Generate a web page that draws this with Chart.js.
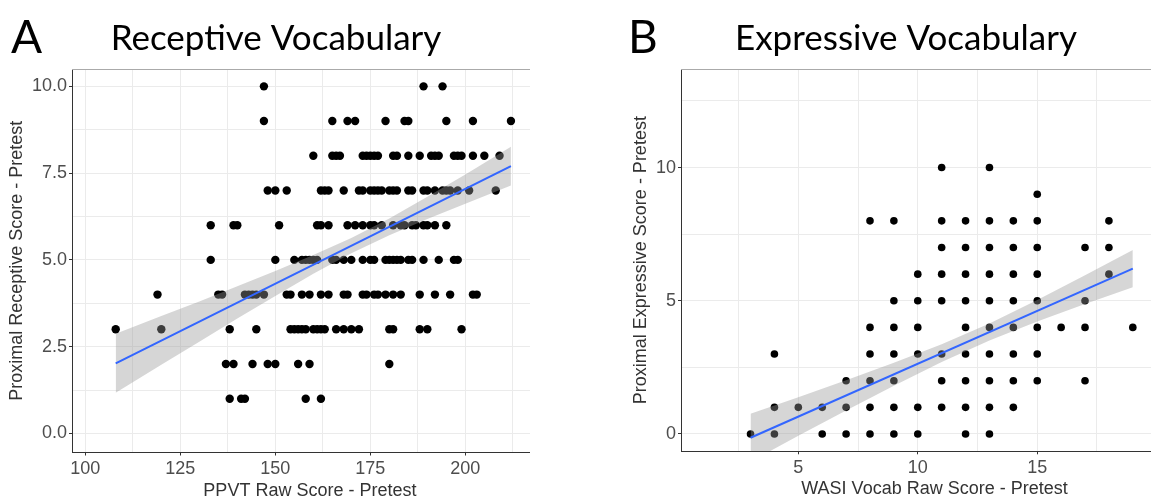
<!DOCTYPE html>
<html lang="en">
<head>
<meta charset="UTF-8">
<title>Receptive and Expressive Vocabulary</title>
<script src="https://cdn.jsdelivr.net/npm/chart.js@4.4.1/dist/chart.umd.min.js"></script>
<style>
  html, body { margin: 0; padding: 0; background: #fff; }
  body { width: 1151px; height: 500px; position: relative; overflow: hidden; font-family: Lato, sans-serif; }
  .panel { position: absolute; top: 0; height: 500px; overflow: hidden; }
  #panelA { left: 0; width: 530px; }
  #panelB { left: 620px; width: 531px; }
  .tag { position: absolute; top: 13px; font-size: 46px; color: #000; line-height: 1; }
</style>
</head>
<body>
<div class="panel" id="panelA"><canvas id="chartA" width="552" height="500"></canvas></div>
<div class="panel" id="panelB"><canvas id="chartB" width="572" height="500"></canvas></div>
<div class="tag" style="left:11px">A</div>
<div class="tag" style="left:628px">B</div>
<script>
// Panel A: proximal receptive score (one entry per score level) and the PPVT raw scores at that level
const receptiveLevels = [10, 9, 8, 7, 6, 5, 4, 3, 2, 1];
const ppvtByLevel = [
  [147, 189, 194],
  [147, 165, 169, 171, 179, 184, 185, 195, 202, 212],
  [160, 165, 166, 167, 173, 174, 175, 176, 177, 181, 182, 185, 188, 191, 192, 193, 197, 198, 199, 202, 205, 209],
  [148, 150, 153, 162, 163, 164, 168, 172, 173, 175, 176, 177, 178, 180, 181, 182, 185, 186, 189, 190, 192, 194, 195, 196, 198, 201, 208],
  [133, 139, 140, 151, 161, 162, 164, 169, 171, 173, 175, 176, 178, 181, 183, 184, 186, 187, 189, 190, 192, 195],
  [133, 150, 155, 157, 158, 159, 160, 161, 165, 166, 168, 170, 173, 175, 176, 179, 180, 181, 182, 183, 185, 186, 189, 193, 197, 198],
  [119, 135, 136, 142, 143, 144, 145, 147, 153, 154, 157, 159, 162, 164, 168, 169, 173, 174, 176, 177, 179, 181, 183, 188, 192, 196, 202, 203],
  [108, 120, 138, 145, 154, 155, 156, 157, 158, 160, 161, 162, 163, 166, 168, 170, 172, 180, 181, 188, 190, 199],
  [137, 139, 144, 148, 150, 156, 159, 180],
  [138, 141, 142, 158, 162]
];
// linear fit and its confidence band
const fitAx = [108, 212];
const fitAy = [2.02, 7.70];
const bandAx = [108, 120, 130, 140, 150, 160, 170, 180, 190, 200, 212];
const bandAlow = [1.17, 1.98, 2.64, 3.31, 3.96, 4.60, 5.19, 5.71, 6.18, 6.62, 7.14];
const bandAhigh = [2.87, 3.38, 3.80, 4.24, 4.68, 5.14, 5.63, 6.19, 6.82, 7.46, 8.26];

// Panel B: proximal expressive score levels and the WASI vocab raw scores at that level
const expressiveLevels = [10, 9, 8, 7, 6, 5, 4, 3, 2, 1, 0];
const wasiByLevel = [
  [11, 13],
  [15],
  [8, 9, 11, 12, 13, 14, 15, 18],
  [11, 12, 13, 14, 15, 17, 18],
  [10, 11, 12, 13, 14, 15, 18],
  [9, 10, 11, 12, 13, 14, 15, 17],
  [8, 9, 10, 12, 13, 14, 15, 16, 17, 19],
  [4, 8, 9, 10, 11, 12, 13, 14, 15],
  [7, 8, 9, 11, 12, 13, 14, 15, 17],
  [4, 5, 6, 7, 8, 9, 10, 11, 12, 13, 14],
  [3, 4, 6, 7, 8, 9, 10, 12, 13]
];
const fitBx = [3, 19];
const fitBy = [-0.14, 6.21];
const bandBx = [3, 5, 7, 9, 11, 13, 15, 17, 19];
const bandBlow = [-1.04, -0.07, 0.88, 1.81, 2.70, 3.51, 4.22, 4.88, 5.51];
const bandBhigh = [0.76, 1.38, 2.02, 2.67, 3.37, 4.15, 5.03, 5.96, 6.91];

function pointsFrom(levels, byLevel) {
  const pts = [];
  levels.forEach((lv, i) => byLevel[i].forEach(x => pts.push({ x: x, y: lv })));
  return pts;
}
function zip(xs, ys) {
  return xs.map((x, i) => ({ x: x, y: ys[i] }));
}

const tickFont = { family: 'Liberation Sans', size: 18 };

// every minor step gets a grid line, only major steps get a label and a tick mark;
// tickMax is where the original panel ended (the figure is cropped on the right)
function axis(min, max, tickMax, step, major, fmt, fitSize, title, titlePad, horizontal) {
  return {
    type: 'linear', min: min, max: max,
    position: horizontal ? 'bottom' : 'left',
    afterFit: s => { if (horizontal) s.height = fitSize; else s.width = fitSize; },
    afterBuildTicks: s => {
      const t = [];
      const end = Math.min(max, tickMax);
      for (let v = Math.ceil(min / step) * step; v <= end + 1e-9; v += step) t.push({ value: +v.toFixed(4) });
      s.ticks = t;
    },
    border: { color: '#333', width: 1 },
    grid: {
      color: '#ebebeb', lineWidth: 1, tickLength: 3,
      tickColor: c => (c.tick && c.tick.label !== '' ? '#333' : 'rgba(0,0,0,0)')
    },
    ticks: {
      autoSkip: false, maxRotation: 0,
      padding: horizontal ? 3 : 2, color: '#4d4d4d', font: tickFont,
      callback: v => (Math.abs(v / major - Math.round(v / major)) < 1e-6 ? fmt(v) : '')
    },
    title: {
      display: true, text: title, color: '#333',
      font: { family: 'Liberation Sans', size: 18, lineHeight: 1 },
      padding: titlePad
    }
  };
}

function frameTop(min, max) {
  return {
    type: 'linear', position: 'top', min: min, max: max,
    afterFit: s => { s.height = 0; },
    ticks: { display: false },
    grid: { drawOnChartArea: false, drawTicks: false },
    border: { color: '#aaa', width: 1 }
  };
}

function makeChart(id, cfg) {
  new Chart(document.getElementById(id), {
    type: 'scatter',
    data: {
      datasets: [
        { data: cfg.points, backgroundColor: '#000', borderWidth: 0, pointRadius: cfg.radius, order: 3 },
        { type: 'line', data: cfg.low, borderColor: 'rgba(0,0,0,0)', borderWidth: 0, pointRadius: 0, fill: false, order: 2 },
        { type: 'line', data: cfg.high, borderColor: 'rgba(0,0,0,0)', borderWidth: 0, pointRadius: 0,
          fill: '-1', backgroundColor: 'rgba(153,153,153,0.4)', order: 2 },
        { type: 'line', data: cfg.fit, borderColor: '#3366ff', borderWidth: 2, pointRadius: 0, fill: false, order: 1 }
      ]
    },
    options: {
      responsive: false,
      animation: false,
      layout: { padding: 0 },
      plugins: {
        legend: { display: false },
        tooltip: { enabled: false },
        title: {
          display: true, text: cfg.title, color: '#000',
          font: { family: 'Lato', size: 35, weight: 'normal' },
          padding: { top: 18, bottom: 9 }
        }
      },
      scales: { x: cfg.x, y: cfg.y, xTop: cfg.top }
    }
  });
}

makeChart('chartA', {
  title: 'Receptive Vocabulary',
  points: pointsFrom(receptiveLevels, ppvtByLevel),
  low: zip(bandAx, bandAlow),
  high: zip(bandAx, bandAhigh),
  fit: zip(fitAx, fitAy),
  radius: 4.2,
  x: axis(96.5, 221.7, 217, 12.5, 25, v => String(v), 47.5, 'PPVT Raw Score - Pretest', { top: 0, bottom: 0 }, true),
  y: axis(-0.55, 10.5, 10.5, 1.25, 2.5, v => v.toFixed(1), 72, 'Proximal Receptive Score - Pretest', { top: 8, bottom: 0 }, false),
  top: frameTop(96.5, 221.7)
});

makeChart('chartB', {
  title: 'Expressive Vocabulary',
  points: pointsFrom(expressiveLevels, wasiByLevel),
  low: zip(bandBx, bandBlow),
  high: zip(bandBx, bandBhigh),
  fit: zip(fitBx, fitBy),
  radius: 3.8,
  x: axis(0.09, 21.31, 19.9, 2.5, 5, v => String(v), 48.7, 'WASI Vocab Raw Score - Pretest', { top: 0, bottom: 2 }, true),
  y: axis(-0.65, 13.7, 13.7, 2.5, 5, v => String(v), 61, 'Proximal Expressive Score - Pretest', { top: 12, bottom: 0 }, false),
  top: frameTop(0.09, 21.31)
});
</script>
</body>
</html>
